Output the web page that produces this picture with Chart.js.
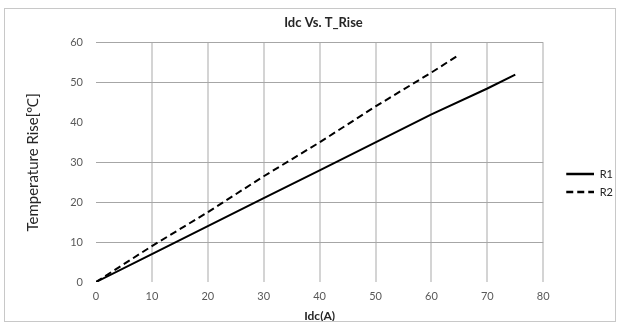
<!DOCTYPE html>
<html><head><meta charset="utf-8">
<script src="https://cdn.jsdelivr.net/npm/chart.js@4/dist/chart.umd.min.js"></script>
<style>
html,body{margin:0;padding:0;background:#fff;}
#wrap{position:absolute;left:0;top:0;width:622px;height:326px;}
#frame{position:absolute;left:4px;top:8px;width:612px;height:314px;border:1px solid #c8c8c8;box-sizing:border-box;pointer-events:none;}
</style></head>
<body>
<div id="wrap"><canvas id="c" width="622" height="326"></canvas></div>
<div id="frame"></div>
<script>
const titleText = "Idc Vs. T_Rise";
const xTitle = "Idc(A)";
const yTitle = "Temperature Rise[℃]";
const seriesNames = ["R1", "R2"];
const r1X = [0, 10, 20, 30, 40, 50, 60, 70, 75];
const r1Y = [0, 7, 14, 21, 28, 35, 42, 48.5, 52];
const r2X = [0, 10, 20, 30, 40, 50, 60, 65];
const r2Y = [0, 9, 17.5, 26.5, 35, 44, 52.5, 57];
const xTicks = [0, 10, 20, 30, 40, 50, 60, 70, 80];
const yTicks = [0, 10, 20, 30, 40, 50, 60];
const dashes = [[], [7, 4]];

const pts = (xs, ys) => xs.map((x, i) => ({x: x, y: ys[i]}));
const FONT = "Lato, 'Liberation Sans', sans-serif";

// legend marker: blank lead-in + line sample
const MARK_W = 44, MARK_LEAD = 16;
function marker(dash) {
  const c = document.createElement('canvas');
  c.width = MARK_W; c.height = 10;
  const g = c.getContext('2d');
  g.strokeStyle = '#000'; g.lineWidth = 2.5; g.setLineDash(dash);
  g.beginPath(); g.moveTo(MARK_LEAD, 5); g.lineTo(MARK_W, 5); g.stroke();
  return c;
}

new Chart(document.getElementById('c'), {
  type: 'scatter',
  data: {
    datasets: [
      {label: seriesNames[0], data: pts(r1X, r1Y), showLine: true, borderColor: '#000', backgroundColor: '#000', borderWidth: 2, pointRadius: 0, borderDash: dashes[0]},
      {label: seriesNames[1], data: pts(r2X, r2Y), showLine: true, borderColor: '#000', backgroundColor: '#000', borderWidth: 2, pointRadius: 0, borderDash: dashes[1]}
    ]
  },
  options: {
    responsive: false,
    animation: false,
    layout: {padding: {left: 24, right: -1, top: 0, bottom: 0}},
    plugins: {
      title: {display: true, text: titleText, color: '#262626', font: {family: FONT, size: 13, weight: 'bold'}, padding: {top: 15, bottom: 12}},
      legend: {
        position: 'right',
        title: {display: true, text: ' ', font: {family: FONT, size: 10}, padding: {top: 0, bottom: 28}},
        labels: {
          usePointStyle: true, pointStyleWidth: MARK_W, boxHeight: 10, padding: 7,
          color: '#262626', font: {family: FONT, size: 11},
          generateLabels: chart => chart.data.datasets.map((ds, i) => ({
            text: ds.label, datasetIndex: i, pointStyle: marker(dashes[i]),
            fillStyle: '#000', strokeStyle: '#000', lineWidth: 0, fontColor: '#262626', hidden: false
          }))
        }
      },
      tooltip: {enabled: false}
    },
    scales: {
      x: {
        type: 'linear', min: 0, max: 80,
        afterBuildTicks: s => { s.ticks = xTicks.map(v => ({value: v})); },
        afterFit: s => { s.height = 44; },
        grid: {color: ctx => ctx.tick && ctx.tick.value === 0 ? 'rgba(0,0,0,0)' : '#d4d4d4', lineWidth: 2, drawTicks: false},
        border: {display: false},
        ticks: {color: '#595959', padding: 8, font: {family: FONT, size: 11}},
        title: {display: true, text: xTitle, color: '#262626', font: {family: FONT, size: 12, weight: 'bold'}, padding: {top: 0, bottom: 3}}
      },
      y: {
        type: 'linear', min: 0, max: 60,
        afterBuildTicks: s => { s.ticks = yTicks.map(v => ({value: v})); },
        afterFit: s => { s.width = 72; },
        grid: {color: ctx => (ctx.tick && (ctx.tick.value === 0 || ctx.tick.value === 40)) ? 'rgba(0,0,0,0)' : '#a6a6a6', lineWidth: 1, drawTicks: false},
        border: {display: false},
        ticks: {color: '#595959', padding: 13, font: {family: FONT, size: 11}},
        title: {display: true, text: yTitle, color: '#262626', font: {family: FONT, size: 15}, padding: {top: 0, bottom: 4}}
      }
    }
  }
});
</script>
</body></html>
